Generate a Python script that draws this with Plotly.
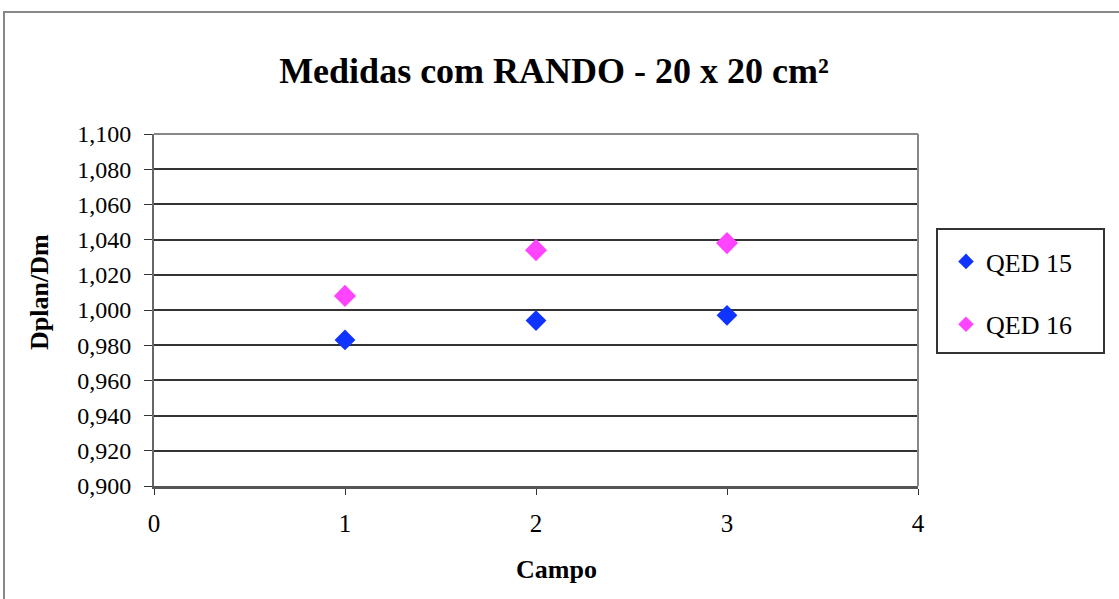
import plotly.graph_objects as go

# Measurement data: Dplan/Dm per field
campo = [1, 2, 3]
qed15 = [0.983, 0.994, 0.997]
qed16 = [1.008, 1.034, 1.038]

y_ticks = [0.90 + 0.02 * i for i in range(11)]
y_tick_text = ["0,900", "0,920", "0,940", "0,960", "0,980", "1,000",
               "1,020", "1,040", "1,060", "1,080", "1,100"]
x_ticks = [0, 1, 2, 3, 4]

FONT = "Liberation Serif"

fig = go.Figure()
fig.add_trace(go.Scatter(
    x=campo, y=qed15, mode="markers", name="QED 15", legendgroup="a",
    marker=dict(symbol="diamond", size=16, color="#1034FF"),
))
fig.add_trace(go.Scatter(
    x=campo, y=qed16, mode="markers", name="QED 16", legendgroup="b",
    marker=dict(symbol="diamond", size=17, color="#FF44FF"),
))

L, R, T, B = 154, 201, 134, 113
W, H = 1119, 599
pw, ph = W - L - R, H - T - B


def px_x(v):
    return (v - L) / pw


def px_y(v):
    return (H - B - v) / ph


# outer chart frame
fig.add_shape(type="rect", xref="paper", yref="paper",
              x0=px_x(4), x1=px_x(W + 20), y0=px_y(H + 20), y1=px_y(12),
              line=dict(color="#888888", width=2), layer="below")
# legend frame
fig.add_shape(type="rect", xref="paper", yref="paper",
              x0=px_x(937), x1=px_x(1104), y0=px_y(353), y1=px_y(229),
              line=dict(color="#333333", width=2), fillcolor="white", layer="below")

# axis titles
fig.add_annotation(text="<b>Campo</b>", xref="paper", yref="paper",
                   x=px_x(556), y=px_y(569), xanchor="center", yanchor="middle",
                   showarrow=False, font=dict(size=26, family=FONT))
fig.add_annotation(text="<b>Dplan/Dm</b>", xref="paper", yref="paper",
                   x=px_x(39), y=px_y(292), xanchor="center", yanchor="middle",
                   textangle=-90, showarrow=False, font=dict(size=26, family=FONT))

fig.update_layout(
    width=W, height=H,
    margin=dict(l=L, r=R, t=T, b=B),
    paper_bgcolor="white", plot_bgcolor="white",
    font=dict(family=FONT, color="black", size=24),
    title=dict(text="<b>Medidas com RANDO - 20 x 20 cm²</b>",
               x=554 / W, xanchor="center", y=1 - 70 / H, yanchor="middle",
               font=dict(size=36, family=FONT)),
    xaxis=dict(range=[0, 4], tickvals=x_ticks, showgrid=False, zeroline=False,
               showline=True, linecolor="#555555", linewidth=3, mirror=False,
               ticks="outside", ticklen=6, tickcolor="#333333", tickwidth=1,
               tickfont=dict(size=25), ticklabelstandoff=7),
    yaxis=dict(range=[0.9, 1.1], tickvals=y_ticks, ticktext=y_tick_text,
               showgrid=True, gridcolor="#333333", gridwidth=1.5, zeroline=False,
               showline=True, linecolor="#666666", linewidth=2,
               ticks="outside", ticklen=8, tickcolor="#333333", tickwidth=1,
               tickfont=dict(size=24), ticklabelstandoff=8),
    legend=dict(x=px_x(946), xanchor="left", y=px_y(238), yanchor="top",
                bgcolor="rgba(0,0,0,0)", borderwidth=0,
                font=dict(size=26, family=FONT), tracegroupgap=26,
                itemsizing="constant", itemwidth=30, indentation=0),
    showlegend=True,
)

# top and right plot border in gray
fig.add_shape(type="line", xref="paper", yref="paper", x0=0, x1=1, y0=1, y1=1,
              line=dict(color="#888888", width=2))
fig.add_shape(type="line", xref="paper", yref="paper", x0=1, x1=1, y0=0, y1=1,
              line=dict(color="#888888", width=2))

fig.write_html("out.html")
